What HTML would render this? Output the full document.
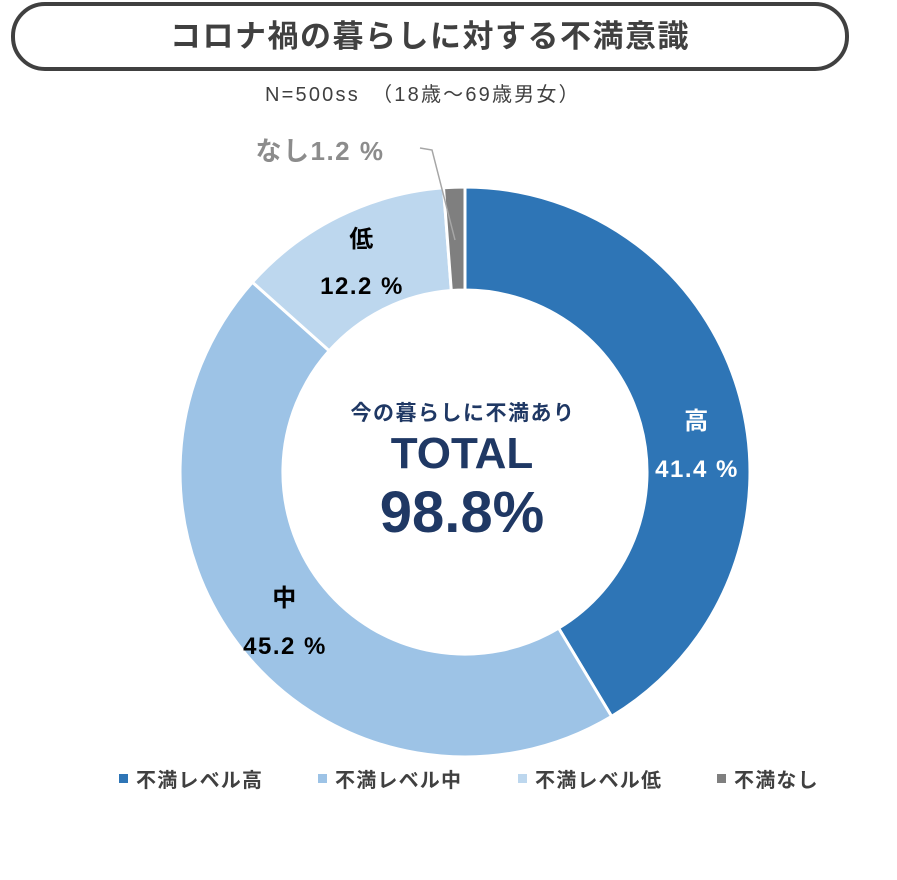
<!DOCTYPE html>
<html><head><meta charset="utf-8"><style>
body{margin:0;background:#fff;width:897px;height:875px;overflow:hidden}
text{font-family:"Liberation Sans","Noto Sans CJK JP",sans-serif}
</style></head><body>
<svg width="897" height="875" viewBox="0 0 897 875" xmlns="http://www.w3.org/2000/svg">
<rect x="13" y="4" width="834" height="65" rx="32" fill="#fff" stroke="#404040" stroke-width="4"/>
<text x="430" y="47" text-anchor="middle" font-size="31" font-weight="bold" fill="#404040" letter-spacing="1.5" style="font-family:'Noto Sans CJK JP',sans-serif">コロナ禍の暮らしに対する不満意識</text>
<text x="265" y="101" font-size="20" fill="#404040" letter-spacing="2.2">N=500ss　（18歳～69歳男女）</text>
<g stroke="#fff" stroke-width="3" stroke-linejoin="round">
<path d="M465,187 A285,285 0 0 1 611.6,716.4 L558.6,628.1 A182,182 0 0 0 465,290 Z" fill="#2e75b6"/>
<path d="M611.6,716.4 A285,285 0 0 1 252.4,282.2 L329.2,350.8 A182,182 0 0 0 558.6,628.1 Z" fill="#9dc3e6"/>
<path d="M252.4,282.2 A285,285 0 0 1 443.5,187.8 L451.3,290.5 A182,182 0 0 0 329.2,350.8 Z" fill="#bdd7ee"/>
<path d="M443.5,187.8 A285,285 0 0 1 465,187 L465,290 A182,182 0 0 0 451.3,290.5 Z" fill="#7f7f7f"/>
</g>
<polyline points="420,148 432,150 455,240" fill="none" stroke="#a6a6a6" stroke-width="1.5"/>
<g font-weight="bold" font-size="24" text-anchor="middle" letter-spacing="1.5">
<text x="697" y="429" fill="#fff">高</text>
<text x="697" y="477" fill="#fff">41.4 %</text>
<text x="285" y="606" fill="#000">中</text>
<text x="285" y="654" fill="#000">45.2 %</text>
<text x="362" y="247" fill="#000">低</text>
<text x="362" y="294" fill="#000">12.2 %</text>
<text x="320" y="160" fill="#8c8c8c" font-size="26">なし1.2 %</text>
</g>
<g fill="#1f3864" font-weight="bold" text-anchor="middle">
<text x="463" y="420" font-size="21" letter-spacing="1.5">今の暮らしに不満あり</text>
<text x="462" y="468" font-size="44">TOTAL</text>
<text x="462" y="532" font-size="58">98.8%</text>
</g>
<g font-size="20" font-weight="bold" fill="#404040" letter-spacing="1.2">
<rect x="119" y="774" width="9" height="9" fill="#2e75b6"/><text x="136" y="787">不満レベル高</text>
<rect x="318" y="774" width="9" height="9" fill="#9dc3e6"/><text x="335" y="787">不満レベル中</text>
<rect x="518" y="774" width="9" height="9" fill="#bdd7ee"/><text x="535" y="787">不満レベル低</text>
<rect x="717" y="774" width="9" height="9" fill="#7f7f7f"/><text x="734" y="787">不満なし</text>
</g>
</svg>
</body></html>
